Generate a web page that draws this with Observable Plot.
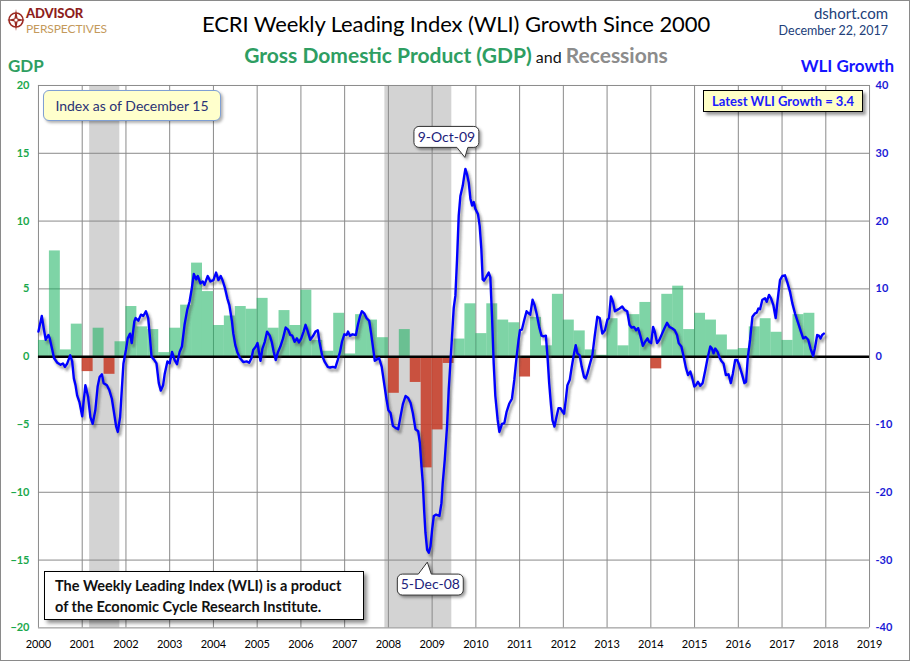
<!DOCTYPE html>
<html><head><meta charset="utf-8">
<script src="https://cdn.jsdelivr.net/npm/d3@7"></script>
<script src="https://cdn.jsdelivr.net/npm/@observablehq/plot@0.6"></script>
<style>
body{margin:0;background:#fff;}
#wrap{position:relative;width:910px;height:661px;box-sizing:border-box;border:1px solid #8a8a8a;overflow:hidden;font-family:Lato,"Open Sans",sans-serif;background:#fff;}
.abs{position:absolute;white-space:nowrap;line-height:1;}
#chart{position:absolute;left:-1px;top:69px;}
</style></head><body>
<div id="wrap">
  <svg class="abs" style="left:5px;top:7px" width="20" height="24" viewBox="0 0 20 24">
    <circle cx="10" cy="12" r="7" fill="none" stroke="#9b2a22" stroke-width="1.6"/>
    <path d="M10 1 L11.6 10.4 L19 12 L11.6 13.6 L10 23 L8.4 13.6 L1 12 L8.4 10.4 Z" fill="#9b2a22"/>
    <circle cx="10" cy="12" r="1.6" fill="#fff"/>
  </svg>
  <div class="abs" style="left:25px;top:6px;font-size:13px;font-weight:900;color:#8e1e1c;letter-spacing:-0.1px">ADVISOR</div>
  <div class="abs" style="left:25px;top:22px;font-size:12px;color:#c49a5c;letter-spacing:-0.1px">PERSPECTIVES</div>
  <div class="abs" style="left:0;width:910px;text-align:center;top:12px;font-size:22px;color:#000;letter-spacing:-0.1px">ECRI Weekly Leading Index (WLI) Growth Since 2000</div>
  <div class="abs" style="left:0;width:910px;text-align:center;top:43px;"><span style="font-size:21px;font-weight:700;color:#2e9e62">Gross Domestic Product (GDP)</span> <span style="font-size:16px;color:#111">and</span> <span style="font-size:21px;font-weight:700;color:#8c8c8c">Recessions</span></div>
  <div class="abs" style="right:21px;top:5px;font-size:15px;color:#22407a">dshort.com</div>
  <div class="abs" style="right:21px;top:24px;font-size:12.5px;color:#22407a">December 22, 2017</div>
  <div class="abs" style="left:7px;top:56px;font-size:17px;font-weight:700;color:#2e9e62">GDP</div>
  <div class="abs" style="right:15px;top:56px;font-size:17px;font-weight:700;color:#1515ff">WLI Growth</div>
  <div id="chart"></div>
  <div class="abs" style="left:42px;top:89px;width:176px;height:29px;background:#ffffcc;border:1.5px solid #7f9fd3;border-radius:6px;box-shadow:2px 2px 3px rgba(0,0,0,.3);display:flex;align-items:center;justify-content:center;font-size:14px;color:#2a3275">Index as of December 15</div>
  <div class="abs" style="left:702px;top:89px;width:158px;height:20px;background:#ffffc6;border:1px solid #000;box-shadow:3px 3px 3px rgba(0,0,0,.4);display:flex;align-items:center;justify-content:center;font-size:13px;font-weight:700;color:#1a1aff">Latest WLI Growth = 3.4</div>
  <div class="abs" style="left:43px;top:570px;width:320px;height:49px;background:#fff;border:1px solid #000;box-shadow:3px 3px 4px rgba(0,0,0,.45);font-size:14.5px;font-weight:700;color:#111;line-height:21px;padding:3px 0 0 10px;box-sizing:border-box">The Weekly Leading Index (WLI) is a product<br>of the Economic Cycle Research Institute.</div>
</div>
<script>
// ---- data ----
const yearTicks = [2000,2001,2002,2003,2004,2005,2006,2007,2008,2009,2010,2011,2012,2013,2014,2015,2016,2017,2018,2019];
const gdpTicks = [-20,-15,-10,-5,0,5,10,15,20];
const wliTicks = [-40,-30,-20,-10,0,10,20,30,40];

const recessionStart = [2001.17, 2007.92];
const recessionEnd   = [2001.86, 2009.45];

const gdpQuarters = [
 "2000Q1","2000Q2","2000Q3","2000Q4","2001Q1","2001Q2","2001Q3","2001Q4",
 "2002Q1","2002Q2","2002Q3","2002Q4","2003Q1","2003Q2","2003Q3","2003Q4",
 "2004Q1","2004Q2","2004Q3","2004Q4","2005Q1","2005Q2","2005Q3","2005Q4",
 "2006Q1","2006Q2","2006Q3","2006Q4","2007Q1","2007Q2","2007Q3","2007Q4",
 "2008Q1","2008Q2","2008Q3","2008Q4","2009Q1","2009Q2","2009Q3","2009Q4",
 "2010Q1","2010Q2","2010Q3","2010Q4","2011Q1","2011Q2","2011Q3","2011Q4",
 "2012Q1","2012Q2","2012Q3","2012Q4","2013Q1","2013Q2","2013Q3","2013Q4",
 "2014Q1","2014Q2","2014Q3","2014Q4","2015Q1","2015Q2","2015Q3","2015Q4",
 "2016Q1","2016Q2","2016Q3","2016Q4","2017Q1","2017Q2","2017Q3"];
const gdpGrowth = [
 1.2,7.8,0.5,2.4, -1.1,2.1,-1.3,1.1,
 3.7,2.2,2.0,0.3, 2.1,3.8,6.9,4.8,
 2.3,3.0,3.7,3.5, 4.3,2.1,3.4,2.3,
 4.9,1.2,0.4,3.2, 0.2,3.1,2.7,1.4,
 -2.7,2.0,-1.9,-8.2, -5.4,-0.5,1.3,3.9,
 1.7,3.9,2.7,2.5, -1.5,2.9,0.8,4.6,
 2.7,1.9,0.5,0.1, 2.8,0.8,3.1,4.0,
 -0.9,4.6,5.2,2.0, 3.2,2.7,1.6,0.5,
 0.6,2.2,2.8,1.8, 1.2,3.1,3.2];

const wliDates = [
 2000.00,2000.076,2000.128,2000.166,2000.227,2000.257,2000.317,2000.355,2000.431,2000.506,2000.559,2000.605,2000.658,2000.726,2000.771,2000.809,2000.847,2000.884,2000.937,
 2001.0,2001.036,2001.073,2001.134,2001.187,2001.240,2001.300,2001.353,2001.398,2001.451,2001.489,2001.565,2001.618,2001.678,2001.731,2001.776,2001.814,2001.867,2001.905,2001.943,
 2002.0,2002.041,2002.094,2002.132,2002.192,2002.222,2002.283,2002.343,2002.396,2002.456,2002.509,2002.547,2002.585,2002.638,2002.698,2002.751,2002.797,2002.850,2002.887,2002.948,
 2003.0,2003.054,2003.114,2003.167,2003.227,2003.280,2003.340,2003.401,2003.454,2003.506,2003.552,2003.605,2003.643,2003.703,2003.757,2003.794,2003.870,2003.930,
 2004.0,2004.061,2004.114,2004.167,2004.212,2004.265,2004.318,2004.364,2004.394,2004.424,2004.455,2004.5,2004.545,2004.606,2004.682,2004.758,2004.818,2004.871,2004.909,2004.970,
 2005.008,2005.045,2005.076,2005.121,2005.174,2005.227,2005.288,2005.333,2005.379,2005.424,2005.477,2005.530,2005.591,2005.652,2005.705,2005.758,2005.803,2005.856,2005.909,2005.955,
 2006.008,2006.061,2006.106,2006.159,2006.212,2006.273,2006.333,2006.386,2006.424,2006.485,2006.538,2006.614,2006.667,2006.727,2006.788,2006.841,2006.894,2006.939,2006.992,
 2007.045,2007.076,2007.121,2007.182,2007.258,2007.303,2007.348,2007.394,2007.447,2007.5,2007.561,2007.606,2007.652,2007.689,2007.735,2007.788,2007.848,2007.902,2007.955,
 2008.0,2008.049,2008.103,2008.163,2008.224,2008.278,2008.331,2008.392,2008.452,2008.506,2008.559,2008.620,2008.681,2008.719,2008.757,2008.787,2008.817,2008.848,2008.886,2008.924,2008.962,
 2009.0,2009.038,2009.091,2009.167,2009.213,2009.243,2009.289,2009.342,2009.380,2009.418,2009.456,2009.494,2009.532,2009.570,2009.608,2009.646,2009.700,2009.730,2009.760,2009.798,2009.837,2009.875,2009.913,2009.951,2009.989,
 2010.049,2010.087,2010.125,2010.156,2010.186,2010.232,2010.293,2010.331,2010.369,2010.407,2010.445,2010.498,2010.537,2010.598,2010.651,2010.704,2010.765,2010.825,2010.879,2010.932,2010.977,
 2011.008,2011.053,2011.106,2011.159,2011.205,2011.243,2011.296,2011.342,2011.387,2011.448,2011.501,2011.547,2011.600,2011.638,2011.676,2011.714,2011.752,2011.797,2011.843,2011.888,2011.934,2011.979,
 2012.017,2012.055,2012.093,2012.147,2012.192,2012.245,2012.283,2012.321,2012.374,2012.420,2012.473,2012.511,2012.549,2012.602,2012.663,2012.716,2012.777,2012.830,2012.891,2012.951,
 2013.005,2013.043,2013.088,2013.134,2013.179,2013.232,2013.286,2013.346,2013.399,2013.460,2013.513,2013.559,2013.612,2013.665,2013.711,2013.764,2013.817,2013.870,2013.923,2013.960,
 2014.007,2014.052,2014.090,2014.143,2014.197,2014.257,2014.311,2014.371,2014.424,2014.485,2014.546,2014.599,2014.637,2014.698,2014.751,2014.804,2014.850,2014.903,2014.941,2014.994,
 2015.032,2015.077,2015.131,2015.184,2015.245,2015.298,2015.359,2015.397,2015.434,2015.472,2015.526,2015.564,2015.609,2015.662,2015.715,2015.776,2015.829,2015.875,2015.928,2015.973,
 2016.019,2016.080,2016.140,2016.178,2016.216,2016.269,2016.323,2016.383,2016.421,2016.459,2016.497,2016.550,2016.611,2016.649,2016.702,2016.748,2016.801,2016.854,2016.900,2016.953,
 2017.006,2017.067,2017.128,2017.181,2017.234,2017.295,2017.371,2017.431,2017.484,2017.538,2017.598,2017.651,2017.712,2017.750,2017.803,2017.841,2017.879,2017.917,2017.955];
const wliGrowth = [
 3.7,6.0,3.9,2.5,3.2,2.7,1.0,-0.2,-0.9,-1.2,-1.0,-1.5,-1.0,0.2,-0.7,-3.2,-4.2,-5.7,-6.7,
 -8.8,-6.4,-4.2,-5.9,-8.9,-9.9,-7.9,-4.4,-3.0,-2.6,-3.9,-4.2,-4.9,-6.2,-8.4,-10.3,-11.1,-8.9,-4.9,-1.0,
 1.0,2.7,3.4,2.0,5.2,5.7,5.3,6.2,6.0,6.7,5.7,3.0,0.0,-0.4,-1.0,-3.9,-5.0,-4.2,-2.5,-0.7,
 -1.0,0.7,-0.5,-1.1,0.7,1.5,4.7,6.9,8.1,10.1,12.2,11.4,11.9,10.8,11.1,10.6,11.9,11.1,
 11.3,12.4,11.3,11.9,11.2,10.1,8.6,7.6,6.4,5.2,3.4,1.7,0.7,-0.2,-0.8,-0.7,-0.9,-0.2,1.0,1.5,
 2.0,0.5,-0.6,1.2,2.2,3.7,3.1,2.2,0.7,-0.5,0.7,1.5,2.7,4.3,4.0,3.2,3.1,2.2,2.7,2.1,
 2.7,3.7,4.7,3.7,2.5,3.0,3.7,3.9,2.2,0.2,-0.7,-1.5,-1.6,-1.5,-1.6,-0.5,0.7,2.2,3.3,
 3.2,3.7,3.1,3.3,3.2,4.7,5.9,6.7,6.4,5.7,5.3,3.4,1.2,-0.6,-0.4,-0.2,-1.5,-3.9,-6.2,
 -7.9,-8.3,-10.2,-10.5,-10.7,-8.8,-7.0,-5.8,-6.1,-6.8,-8.3,-10.7,-11.0,-12.7,-16.2,-18.6,-22.6,-26.0,-28.5,-28.9,-28.0,
 -25.5,-23.5,-23.3,-23.5,-21.6,-18.6,-15.2,-10.2,-4.8,-0.9,3.1,7.2,9.0,14.4,20.8,23.7,25.2,26.5,27.7,26.9,25.7,23.3,22.3,22.8,21.8,
 21.0,19.3,15.9,11.4,11.2,11.7,12.4,11.7,6.0,-0.9,-5.8,-9.3,-11.1,-9.9,-9.8,-8.1,-6.9,-6.2,-3.4,0.0,2.5,
 3.9,4.0,5.4,6.7,6.4,6.2,8.4,7.6,6.4,4.4,3.1,3.0,3.1,0.0,-3.9,-6.9,-9.4,-10.3,-8.9,-7.6,-7.6,-8.1,
 -8.4,-6.4,-4.2,-3.4,-1.5,0.5,1.7,0.5,0.2,-1.5,-3.0,-3.2,-2.5,-1.2,0.2,3.0,5.9,5.7,3.4,3.9,
 5.4,5.7,8.9,8.1,6.7,6.9,7.1,7.4,6.9,6.7,4.7,4.3,4.4,3.9,4.2,3.0,1.6,2.2,2.7,2.2,
 2.0,4.4,3.7,2.0,2.5,3.4,4.2,5.0,4.4,4.2,3.9,3.2,2.0,1.5,0.0,-1.7,-2.7,-2.2,-3.0,-4.4,
 -4.2,-3.7,-4.3,-3.9,-2.0,-0.2,1.5,1.2,0.5,1.2,0.7,0.0,-0.6,-1.0,-2.7,-2.6,-3.9,-2.5,-0.5,-0.5,
 -1.2,-2.5,-3.9,-3.7,-0.2,2.5,5.9,6.4,6.5,7.1,7.0,8.4,8.6,8.1,9.1,8.6,7.6,5.7,8.4,11.3,
 11.9,12.0,10.8,9.6,7.9,6.4,4.9,3.7,2.7,2.9,2.5,1.2,0.1,1.2,3.2,3.1,2.7,3.2,3.4];

const callouts = [{label:"9-Oct-09", t:2009.760, v:27.7, side:"above"},
                  {label:"5-Dec-08", t:2008.924, v:-28.9, side:"below"}];

// ---- tables built from arrays ----
const gdp = gdpQuarters.map((q,i) => {
  const y = +q.slice(0,4), k = +q.slice(5) - 1;
  return {start: y + k/4, end: y + (k+1)/4, value: gdpGrowth[i]};
});
const recessions = recessionStart.map((s,i) => ({start:s, end:recessionEnd[i]}));
const wli = wliDates.map((t,i) => ({t, v: wliGrowth[i]}));
const toGdp = v => v / 2; // WLI scale (right axis) is twice the GDP scale (left axis)

const green = "#14b05c", red = "#c8432f", blue = "#0000ff";

const chart = Plot.plot({
  width: 910, height: 591,
  marginLeft: 38, marginRight: 40, marginTop: 15, marginBottom: 33,
  style: {fontFamily: "Lato, sans-serif", fontSize: "11px", background: "transparent", overflow: "visible"},
  x: {domain: [2000, 2019], axis: null, label: null},
  y: {domain: [-20, 20], axis: null, label: null},
  marks: [
    Plot.rect(recessions, {x1: "start", x2: "end", fill: "#d3d3d3"}),
    Plot.gridX(yearTicks, {stroke: "#8a8a8a", strokeOpacity: 1, strokeWidth: 1}),
    Plot.gridY(gdpTicks, {stroke: "#8a8a8a", strokeOpacity: 1, strokeWidth: 1}),
    Plot.rect(gdp.filter(d => d.value >= 0), {x1: "start", x2: "end", y1: 0, y2: "value", fill: green, fillOpacity: 0.55}),
    Plot.rect(gdp.filter(d => d.value < 0), {x1: "start", x2: "end", y1: 0, y2: "value", fill: red, fillOpacity: 0.9}),
    Plot.ruleY([0], {stroke: "#000", strokeWidth: 2.6}),
    Plot.line(wli, {x: "t", y: d => toGdp(d.v), stroke: "#444", strokeOpacity: 0.45, strokeWidth: 3, dx: 2, dy: 3, className: "wli-shadow"}),
    Plot.line(wli, {x: "t", y: d => toGdp(d.v), stroke: blue, strokeWidth: 2.4, curve: "linear"}),
    Plot.axisX(yearTicks, {tickSize: 0, tickPadding: 12, tickFormat: d => String(d), fill: "#000", fontSize: 11, label: null}),
    Plot.axisY(gdpTicks, {anchor: "left", tickSize: 0, tickPadding: 9, fill: "#1aa84c", fontWeight: "bold", fontSize: 11, label: null}),
    Plot.axisY(gdpTicks, {anchor: "right", tickSize: 0, tickPadding: 6, tickFormat: (d, i) => String(wliTicks[i]), fill: "#1a1ad6", fontWeight: "bold", fontSize: 11, label: null})
  ]
});
document.getElementById("chart").appendChild(chart);

// shadow blur + callouts placed with the plot's own scales
const svg = d3.select(chart);
const defs = svg.append("defs");
defs.append("filter").attr("id", "blurS").attr("x", "-5%").attr("y", "-5%").attr("width", "110%").attr("height", "110%")
  .append("feGaussianBlur").attr("stdDeviation", 1.3);
const ds = defs.append("filter").attr("id", "dropS").attr("x", "-20%").attr("y", "-20%").attr("width", "150%").attr("height", "160%");
ds.append("feDropShadow").attr("dx", 2).attr("dy", 2).attr("stdDeviation", 1.5).attr("flood-color", "#000").attr("flood-opacity", 0.4);
svg.selectAll(".wli-shadow").attr("filter", "url(#blurS)");

const sx = chart.scale("x"), sy = chart.scale("y");
const g = svg.append("g");
callouts.forEach(c => {
  const px = sx.apply(c.t), py = sy.apply(toGdp(c.v));
  let x0, x1, y0, y1, p, r = 5;
  if (c.side === "above") {
    x0 = px - 51; x1 = px + 14; y0 = py - 42; y1 = py - 21;
    const b1 = px - 8, b2 = px + 3, tx = px, ty = py - 11;
    p = `M${x0+r},${y0}H${x1-r}A${r},${r} 0 0 1 ${x1},${y0+r}V${y1-r}A${r},${r} 0 0 1 ${x1-r},${y1}H${b2}L${tx},${ty}L${b1},${y1}H${x0+r}A${r},${r} 0 0 1 ${x0},${y1-r}V${y0+r}A${r},${r} 0 0 1 ${x0+r},${y0}Z`;
  } else {
    x0 = px - 31; x1 = px + 35; y0 = py + 22; y1 = py + 43;
    const b1 = px - 10, b2 = px + 3, tx = px - 1, ty = py + 10;
    p = `M${x0+r},${y0}H${b1}L${tx},${ty}L${b2},${y0}H${x1-r}A${r},${r} 0 0 1 ${x1},${y0+r}V${y1-r}A${r},${r} 0 0 1 ${x1-r},${y1}H${x0+r}A${r},${r} 0 0 1 ${x0},${y1-r}V${y0+r}A${r},${r} 0 0 1 ${x0+r},${y0}Z`;
  }
  g.append("path").attr("d", p).attr("fill", "#fff").attr("stroke", "#333").attr("stroke-width", 1).attr("filter", "url(#dropS)");
  g.append("text").attr("x", (x0 + x1) / 2).attr("y", (y0 + y1) / 2).attr("dy", "0.35em")
    .attr("text-anchor", "middle").attr("font-size", 14).attr("fill", "#1c1c7a").text(c.label);
});
</script>
</body></html>
